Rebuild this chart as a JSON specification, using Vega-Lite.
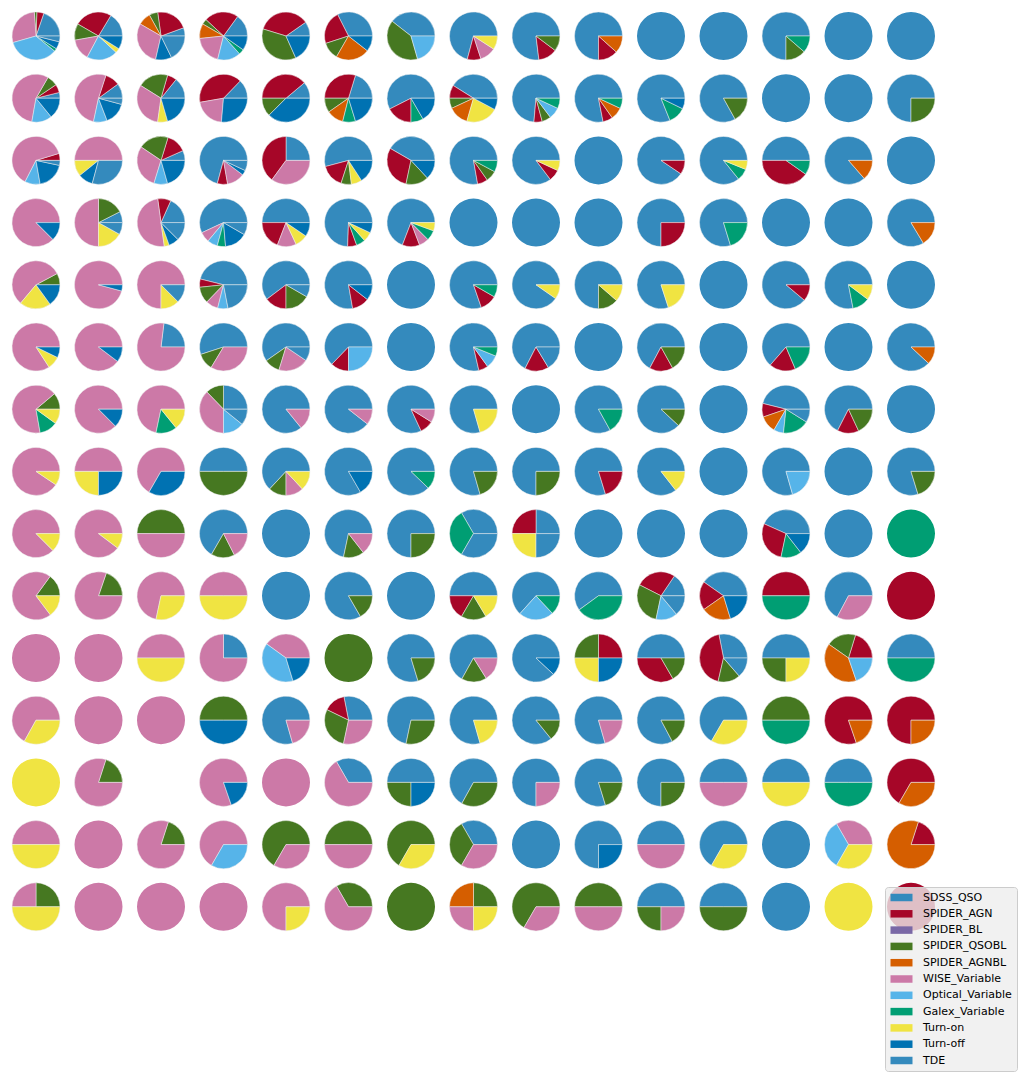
{
  "$schema": "https://vega.github.io/schema/vega-lite/v6.json",
  "background": "white",
  "padding": {"left": 11, "top": 11, "right": 0, "bottom": 0},
  "datasets": {
    "cats": [
      {"cat": "SDSS_QSO", "k": 0}, {"cat": "SPIDER_AGN", "k": 1}, {"cat": "SPIDER_BL", "k": 2},
      {"cat": "SPIDER_QSOBL", "k": 3}, {"cat": "SPIDER_AGNBL", "k": 4}, {"cat": "WISE_Variable", "k": 5},
      {"cat": "Optical_Variable", "k": 6}, {"cat": "Galex_Variable", "k": 7}, {"cat": "Turn-on", "k": 8},
      {"cat": "Turn-off", "k": 9}, {"cat": "TDE", "k": 10}
    ],
    "pies": [
      {"r":0,"c":0,"SDSS_QSO":71,"SPIDER_AGN":17,"SPIDER_QSOBL":6,"WISE_Variable":102,"Optical_Variable":125,"Galex_Variable":7,"Turn-off":18,"TDE":14},
      {"r":0,"c":1,"SDSS_QSO":59,"SPIDER_AGN":91,"SPIDER_QSOBL":40,"WISE_Variable":52,"Optical_Variable":75,"Turn-on":11,"Turn-off":32},
      {"r":0,"c":2,"SDSS_QSO":20,"SPIDER_AGN":78,"SPIDER_QSOBL":21,"SPIDER_AGNBL":31,"WISE_Variable":107,"Turn-off":39,"TDE":64},
      {"r":0,"c":3,"SDSS_QSO":54,"SPIDER_AGN":83,"SPIDER_QSOBL":13,"SPIDER_AGNBL":36,"WISE_Variable":70,"Optical_Variable":56,"Galex_Variable":13,"Turn-off":35},
      {"r":0,"c":4,"SDSS_QSO":35,"SPIDER_AGN":128,"SPIDER_QSOBL":131,"Turn-off":66},
      {"r":0,"c":5,"SDSS_QSO":117,"SPIDER_AGN":81,"SPIDER_QSOBL":42,"SPIDER_AGNBL":82,"Turn-off":38},
      {"r":0,"c":6,"SDSS_QSO":142,"SPIDER_QSOBL":144,"Optical_Variable":74},
      {"r":0,"c":7,"SDSS_QSO":255,"SPIDER_AGN":33,"WISE_Variable":39,"Turn-on":33},
      {"r":0,"c":8,"SDSS_QSO":277,"SPIDER_AGN":46,"SPIDER_QSOBL":37},
      {"r":0,"c":9,"SDSS_QSO":270,"SPIDER_AGN":48,"SPIDER_AGNBL":42},
      {"r":0,"c":10,"SDSS_QSO":360},
      {"r":0,"c":11,"SDSS_QSO":360},
      {"r":0,"c":12,"SDSS_QSO":270,"SPIDER_QSOBL":49,"Galex_Variable":41},
      {"r":0,"c":13,"SDSS_QSO":360},
      {"r":0,"c":14,"SDSS_QSO":360},

      {"r":1,"c":0,"SDSS_QSO":14,"SPIDER_AGN":20,"SPIDER_QSOBL":26,"WISE_Variable":200,"Optical_Variable":49,"Turn-off":51},
      {"r":1,"c":1,"SDSS_QSO":36,"SPIDER_AGN":36,"WISE_Variable":186,"Optical_Variable":33,"Turn-off":54,"TDE":15},
      {"r":1,"c":2,"SDSS_QSO":51,"SPIDER_AGN":23,"SPIDER_QSOBL":74,"WISE_Variable":114,"Turn-on":24,"Turn-off":74},
      {"r":1,"c":3,"SDSS_QSO":46,"SPIDER_AGN":144,"WISE_Variable":75,"Turn-off":95},
      {"r":1,"c":4,"SDSS_QSO":40,"SPIDER_AGN":140,"SPIDER_QSOBL":45,"Turn-off":135},
      {"r":1,"c":5,"SDSS_QSO":73,"SPIDER_AGN":107,"SPIDER_QSOBL":35,"SPIDER_AGNBL":41,"Galex_Variable":31,"Turn-off":73},
      {"r":1,"c":6,"SDSS_QSO":207,"SPIDER_AGN":63,"Galex_Variable":30,"Turn-off":60},
      {"r":1,"c":7,"SDSS_QSO":148,"SPIDER_AGN":32,"SPIDER_QSOBL":25,"SPIDER_AGNBL":49,"Turn-on":78,"Turn-off":28},
      {"r":1,"c":8,"SDSS_QSO":265,"SPIDER_AGN":20,"SPIDER_QSOBL":22,"Optical_Variable":28,"Galex_Variable":25},
      {"r":1,"c":9,"SDSS_QSO":281,"SPIDER_AGN":24,"SPIDER_AGNBL":30,"Galex_Variable":25},
      {"r":1,"c":10,"SDSS_QSO":292,"Galex_Variable":42,"Turn-off":26},
      {"r":1,"c":11,"SDSS_QSO":299,"SPIDER_QSOBL":61},
      {"r":1,"c":12,"SDSS_QSO":360},
      {"r":1,"c":13,"SDSS_QSO":360},
      {"r":1,"c":14,"SDSS_QSO":270,"SPIDER_QSOBL":90},

      {"r":2,"c":0,"SPIDER_AGN":17,"WISE_Variable":226,"Optical_Variable":37,"Turn-off":68,"TDE":12},
      {"r":2,"c":1,"WISE_Variable":180,"Turn-on":39,"Turn-off":36,"TDE":105},
      {"r":2,"c":2,"SDSS_QSO":24,"SPIDER_AGN":49,"SPIDER_QSOBL":73,"WISE_Variable":107,"Optical_Variable":33,"Turn-off":74},
      {"r":2,"c":3,"SDSS_QSO":255,"SPIDER_AGN":25,"WISE_Variable":43,"Turn-off":12,"TDE":25},
      {"r":2,"c":4,"SDSS_QSO":90,"SPIDER_AGN":144,"WISE_Variable":126},
      {"r":2,"c":5,"SDSS_QSO":195,"SPIDER_AGN":57,"SPIDER_QSOBL":25,"Turn-on":26,"Turn-off":57},
      {"r":2,"c":6,"SDSS_QSO":150,"SPIDER_AGN":108,"SPIDER_QSOBL":55,"Turn-off":47},
      {"r":2,"c":7,"SDSS_QSO":280,"SPIDER_AGN":25,"SPIDER_QSOBL":27,"Galex_Variable":28},
      {"r":2,"c":8,"SDSS_QSO":307,"SPIDER_AGN":28,"Turn-on":25},
      {"r":2,"c":9,"SDSS_QSO":360},
      {"r":2,"c":10,"SDSS_QSO":326,"SPIDER_AGN":34},
      {"r":2,"c":11,"SDSS_QSO":309,"Galex_Variable":29,"Turn-on":22},
      {"r":2,"c":12,"SDSS_QSO":180,"SPIDER_AGN":145,"Galex_Variable":35},
      {"r":2,"c":13,"SDSS_QSO":311,"SPIDER_AGNBL":49},
      {"r":2,"c":14,"SDSS_QSO":360},

      {"r":3,"c":0,"WISE_Variable":315,"Turn-off":45},
      {"r":3,"c":1,"SDSS_QSO":27,"SPIDER_QSOBL":63,"WISE_Variable":180,"Turn-on":61,"TDE":29},
      {"r":3,"c":2,"SDSS_QSO":66,"SPIDER_AGN":32,"WISE_Variable":180,"Turn-on":12,"Turn-off":25,"TDE":45},
      {"r":3,"c":3,"SDSS_QSO":205,"WISE_Variable":25,"Optical_Variable":25,"Galex_Variable":20,"Turn-off":55,"TDE":30},
      {"r":3,"c":4,"SDSS_QSO":180,"SPIDER_AGN":69,"WISE_Variable":46,"Turn-on":31,"Turn-off":34},
      {"r":3,"c":5,"SDSS_QSO":268,"SPIDER_AGN":22,"Galex_Variable":22,"Turn-on":23,"Turn-off":25},
      {"r":3,"c":6,"SDSS_QSO":249,"SPIDER_AGN":42,"WISE_Variable":24,"Galex_Variable":25,"Turn-on":20},
      {"r":3,"c":7,"SDSS_QSO":360},
      {"r":3,"c":8,"SDSS_QSO":360},
      {"r":3,"c":9,"SDSS_QSO":360},
      {"r":3,"c":10,"SDSS_QSO":270,"SPIDER_AGN":90},
      {"r":3,"c":11,"SDSS_QSO":287,"Galex_Variable":73},
      {"r":3,"c":12,"SDSS_QSO":360},
      {"r":3,"c":13,"SDSS_QSO":360},
      {"r":3,"c":14,"SDSS_QSO":301,"SPIDER_AGNBL":59},

      {"r":4,"c":0,"SPIDER_QSOBL":28,"WISE_Variable":202,"Turn-on":76,"Turn-off":54},
      {"r":4,"c":1,"WISE_Variable":345,"Turn-off":15},
      {"r":4,"c":2,"WISE_Variable":270,"Turn-on":45,"TDE":45},
      {"r":4,"c":3,"SDSS_QSO":166,"SPIDER_AGN":20,"SPIDER_QSOBL":40,"WISE_Variable":30,"Optical_Variable":25,"TDE":79},
      {"r":4,"c":4,"SDSS_QSO":217,"SPIDER_AGN":53,"SPIDER_QSOBL":60,"TDE":30},
      {"r":4,"c":5,"SDSS_QSO":280,"SPIDER_AGN":42,"Turn-off":38},
      {"r":4,"c":6,"SDSS_QSO":360},
      {"r":4,"c":7,"SDSS_QSO":289,"SPIDER_AGN":41,"Galex_Variable":30},
      {"r":4,"c":8,"SDSS_QSO":325,"Turn-on":35},
      {"r":4,"c":9,"SDSS_QSO":270,"SPIDER_QSOBL":49,"Turn-on":41},
      {"r":4,"c":10,"SDSS_QSO":288,"Turn-on":72},
      {"r":4,"c":11,"SDSS_QSO":360},
      {"r":4,"c":12,"SDSS_QSO":320,"SPIDER_AGN":40},
      {"r":4,"c":13,"SDSS_QSO":281,"Galex_Variable":42,"Turn-on":37},
      {"r":4,"c":14,"SDSS_QSO":360},

      {"r":5,"c":0,"WISE_Variable":303,"Turn-on":31,"Turn-off":26},
      {"r":5,"c":1,"WISE_Variable":323,"Turn-off":37},
      {"r":5,"c":2,"SDSS_QSO":83,"WISE_Variable":277},
      {"r":5,"c":3,"SDSS_QSO":198,"SPIDER_QSOBL":41,"WISE_Variable":121},
      {"r":5,"c":4,"SDSS_QSO":215,"SPIDER_QSOBL":38,"WISE_Variable":73,"TDE":34},
      {"r":5,"c":5,"SDSS_QSO":226,"SPIDER_AGN":44,"Optical_Variable":90},
      {"r":5,"c":6,"SDSS_QSO":360},
      {"r":5,"c":7,"SDSS_QSO":283,"SPIDER_AGN":23,"Optical_Variable":32,"Galex_Variable":22},
      {"r":5,"c":8,"SDSS_QSO":243,"SPIDER_AGN":58,"TDE":59},
      {"r":5,"c":9,"SDSS_QSO":360},
      {"r":5,"c":10,"SDSS_QSO":242,"SPIDER_AGN":57,"SPIDER_QSOBL":61},
      {"r":5,"c":11,"SDSS_QSO":360},
      {"r":5,"c":12,"SDSS_QSO":229,"SPIDER_AGN":64,"Galex_Variable":67},
      {"r":5,"c":13,"SDSS_QSO":360},
      {"r":5,"c":14,"SDSS_QSO":317,"SPIDER_AGNBL":43},

      {"r":6,"c":0,"SPIDER_QSOBL":40,"WISE_Variable":240,"Galex_Variable":44,"Turn-on":36},
      {"r":6,"c":1,"WISE_Variable":315,"Turn-off":45},
      {"r":6,"c":2,"WISE_Variable":258,"Galex_Variable":51,"Turn-on":51},
      {"r":6,"c":3,"SDSS_QSO":90,"SPIDER_QSOBL":44,"WISE_Variable":136,"Optical_Variable":51,"TDE":39},
      {"r":6,"c":4,"SDSS_QSO":309,"WISE_Variable":51},
      {"r":6,"c":5,"SDSS_QSO":322,"WISE_Variable":38},
      {"r":6,"c":6,"SDSS_QSO":295,"SPIDER_AGN":33,"WISE_Variable":32},
      {"r":6,"c":7,"SDSS_QSO":286,"Turn-on":74},
      {"r":6,"c":8,"SDSS_QSO":360},
      {"r":6,"c":9,"SDSS_QSO":299,"Galex_Variable":61},
      {"r":6,"c":10,"SDSS_QSO":317,"SPIDER_QSOBL":43},
      {"r":6,"c":11,"SDSS_QSO":360},
      {"r":6,"c":12,"SDSS_QSO":166,"SPIDER_AGN":33,"SPIDER_AGNBL":41,"Optical_Variable":24,"Galex_Variable":64,"TDE":32},
      {"r":6,"c":13,"SDSS_QSO":243,"SPIDER_AGN":52,"SPIDER_QSOBL":65},
      {"r":6,"c":14,"SDSS_QSO":360},

      {"r":7,"c":0,"WISE_Variable":326,"Turn-on":34},
      {"r":7,"c":1,"WISE_Variable":180,"Turn-on":90,"Turn-off":90},
      {"r":7,"c":2,"WISE_Variable":240,"Turn-off":120},
      {"r":7,"c":3,"SDSS_QSO":180,"SPIDER_QSOBL":180},
      {"r":7,"c":4,"SDSS_QSO":227,"SPIDER_QSOBL":43,"WISE_Variable":43,"Turn-on":47},
      {"r":7,"c":5,"SDSS_QSO":300,"Turn-off":60},
      {"r":7,"c":6,"SDSS_QSO":316,"Galex_Variable":44},
      {"r":7,"c":7,"SDSS_QSO":286,"SPIDER_QSOBL":74},
      {"r":7,"c":8,"SDSS_QSO":270,"SPIDER_QSOBL":90},
      {"r":7,"c":9,"SDSS_QSO":287,"SPIDER_AGN":73},
      {"r":7,"c":10,"SDSS_QSO":308,"Turn-on":52},
      {"r":7,"c":11,"SDSS_QSO":360},
      {"r":7,"c":12,"SDSS_QSO":286,"Optical_Variable":74},
      {"r":7,"c":13,"SDSS_QSO":360},
      {"r":7,"c":14,"SDSS_QSO":287,"SPIDER_QSOBL":73},

      {"r":8,"c":0,"WISE_Variable":315,"Turn-on":45},
      {"r":8,"c":1,"WISE_Variable":323,"Turn-on":37},
      {"r":8,"c":2,"SPIDER_QSOBL":180,"WISE_Variable":180},
      {"r":8,"c":3,"SDSS_QSO":240,"SPIDER_QSOBL":57,"WISE_Variable":63},
      {"r":8,"c":4,"SDSS_QSO":360},
      {"r":8,"c":5,"SDSS_QSO":258,"SPIDER_QSOBL":50,"WISE_Variable":52},
      {"r":8,"c":6,"SDSS_QSO":270,"SPIDER_QSOBL":90},
      {"r":8,"c":7,"SDSS_QSO":120,"Galex_Variable":120,"TDE":120},
      {"r":8,"c":8,"SDSS_QSO":90,"SPIDER_AGN":90,"Turn-on":90,"TDE":90},
      {"r":8,"c":9,"SDSS_QSO":360},
      {"r":8,"c":10,"SDSS_QSO":360},
      {"r":8,"c":11,"SDSS_QSO":360},
      {"r":8,"c":12,"SDSS_QSO":156,"SPIDER_AGN":102,"Galex_Variable":50,"Turn-off":52},
      {"r":8,"c":13,"SDSS_QSO":360},
      {"r":8,"c":14,"Galex_Variable":360},

      {"r":9,"c":0,"SPIDER_QSOBL":54,"WISE_Variable":253,"Turn-on":53},
      {"r":9,"c":1,"SPIDER_QSOBL":71,"WISE_Variable":289},
      {"r":9,"c":2,"WISE_Variable":258,"Turn-on":102},
      {"r":9,"c":3,"WISE_Variable":180,"Turn-on":180},
      {"r":9,"c":4,"SDSS_QSO":360},
      {"r":9,"c":5,"SDSS_QSO":300,"SPIDER_QSOBL":60},
      {"r":9,"c":6,"SDSS_QSO":360},
      {"r":9,"c":7,"SDSS_QSO":180,"SPIDER_AGN":60,"SPIDER_QSOBL":61,"Turn-on":59},
      {"r":9,"c":8,"SDSS_QSO":228,"Optical_Variable":85,"Galex_Variable":47},
      {"r":9,"c":9,"SDSS_QSO":216,"Galex_Variable":144},
      {"r":9,"c":10,"SDSS_QSO":56,"SPIDER_AGN":97,"SPIDER_QSOBL":105,"Optical_Variable":52,"TDE":50},
      {"r":9,"c":11,"SDSS_QSO":145,"SPIDER_AGN":70,"SPIDER_AGNBL":72,"Turn-off":73},
      {"r":9,"c":12,"SPIDER_AGN":180,"Galex_Variable":180},
      {"r":9,"c":13,"SDSS_QSO":242,"WISE_Variable":118},
      {"r":9,"c":14,"SPIDER_AGN":360},

      {"r":10,"c":0,"WISE_Variable":360},
      {"r":10,"c":1,"WISE_Variable":360},
      {"r":10,"c":2,"WISE_Variable":180,"Turn-on":180},
      {"r":10,"c":3,"SDSS_QSO":90,"WISE_Variable":270},
      {"r":10,"c":4,"WISE_Variable":144,"Optical_Variable":143,"Turn-off":73},
      {"r":10,"c":5,"SPIDER_QSOBL":360},
      {"r":10,"c":6,"SDSS_QSO":287,"SPIDER_QSOBL":73},
      {"r":10,"c":7,"SDSS_QSO":241,"SPIDER_QSOBL":61,"WISE_Variable":58},
      {"r":10,"c":8,"SDSS_QSO":317,"Turn-off":43},
      {"r":10,"c":9,"SPIDER_AGN":90,"SPIDER_QSOBL":90,"Turn-on":90,"Turn-off":90},
      {"r":10,"c":10,"SDSS_QSO":180,"SPIDER_AGN":120,"SPIDER_QSOBL":60},
      {"r":10,"c":11,"SDSS_QSO":101,"SPIDER_AGN":156,"SPIDER_QSOBL":54,"TDE":49},
      {"r":10,"c":12,"SDSS_QSO":180,"SPIDER_QSOBL":90,"Turn-on":90},
      {"r":10,"c":13,"SPIDER_AGN":73,"SPIDER_QSOBL":72,"SPIDER_AGNBL":144,"Optical_Variable":71},
      {"r":10,"c":14,"SDSS_QSO":180,"Galex_Variable":180},

      {"r":11,"c":0,"WISE_Variable":241,"Turn-on":119},
      {"r":11,"c":1,"WISE_Variable":360},
      {"r":11,"c":2,"WISE_Variable":360},
      {"r":11,"c":3,"SPIDER_QSOBL":180,"Turn-off":180},
      {"r":11,"c":4,"SDSS_QSO":286,"WISE_Variable":74},
      {"r":11,"c":5,"SDSS_QSO":101,"SPIDER_AGN":53,"SPIDER_QSOBL":104,"WISE_Variable":102},
      {"r":11,"c":6,"SDSS_QSO":258,"SPIDER_QSOBL":102},
      {"r":11,"c":7,"SDSS_QSO":286,"Turn-on":74},
      {"r":11,"c":8,"SDSS_QSO":309,"SPIDER_QSOBL":51},
      {"r":11,"c":9,"SDSS_QSO":286,"WISE_Variable":74},
      {"r":11,"c":10,"SDSS_QSO":298,"SPIDER_QSOBL":62},
      {"r":11,"c":11,"SDSS_QSO":240,"Turn-on":120},
      {"r":11,"c":12,"SPIDER_QSOBL":180,"Galex_Variable":180},
      {"r":11,"c":13,"SPIDER_AGN":289,"SPIDER_AGNBL":71},
      {"r":11,"c":14,"SPIDER_AGN":270,"SPIDER_AGNBL":90},

      {"r":12,"c":0,"Turn-on":360},
      {"r":12,"c":1,"SPIDER_QSOBL":72,"WISE_Variable":288},
      {"r":12,"c":3,"WISE_Variable":289,"Turn-off":71},
      {"r":12,"c":4,"WISE_Variable":360},
      {"r":12,"c":5,"SDSS_QSO":120,"WISE_Variable":240},
      {"r":12,"c":6,"SDSS_QSO":180,"SPIDER_QSOBL":90,"Turn-off":90},
      {"r":12,"c":7,"SDSS_QSO":241,"SPIDER_QSOBL":119},
      {"r":12,"c":8,"SDSS_QSO":270,"WISE_Variable":90},
      {"r":12,"c":9,"SDSS_QSO":287,"SPIDER_QSOBL":73},
      {"r":12,"c":10,"SDSS_QSO":270,"SPIDER_QSOBL":90},
      {"r":12,"c":11,"SDSS_QSO":180,"WISE_Variable":180},
      {"r":12,"c":12,"SDSS_QSO":180,"Turn-on":180},
      {"r":12,"c":13,"SDSS_QSO":180,"Galex_Variable":180},
      {"r":12,"c":14,"SPIDER_AGN":240,"SPIDER_AGNBL":120},

      {"r":13,"c":0,"WISE_Variable":180,"Turn-on":180},
      {"r":13,"c":1,"WISE_Variable":360},
      {"r":13,"c":2,"SPIDER_QSOBL":72,"WISE_Variable":288},
      {"r":13,"c":3,"WISE_Variable":240,"Optical_Variable":120},
      {"r":13,"c":4,"SPIDER_QSOBL":240,"WISE_Variable":120},
      {"r":13,"c":5,"SPIDER_QSOBL":180,"WISE_Variable":180},
      {"r":13,"c":6,"SPIDER_QSOBL":240,"Turn-on":120},
      {"r":13,"c":7,"SDSS_QSO":120,"SPIDER_QSOBL":120,"WISE_Variable":120},
      {"r":13,"c":8,"SDSS_QSO":360},
      {"r":13,"c":9,"SDSS_QSO":270,"Turn-off":90},
      {"r":13,"c":10,"SDSS_QSO":180,"WISE_Variable":180},
      {"r":13,"c":11,"SDSS_QSO":240,"Turn-on":120},
      {"r":13,"c":12,"SDSS_QSO":360},
      {"r":13,"c":13,"WISE_Variable":120,"Optical_Variable":120,"Turn-on":120},
      {"r":13,"c":14,"SPIDER_AGN":72,"SPIDER_AGNBL":288},

      {"r":14,"c":0,"SPIDER_QSOBL":90,"WISE_Variable":90,"Turn-on":180},
      {"r":14,"c":1,"WISE_Variable":360},
      {"r":14,"c":2,"WISE_Variable":360},
      {"r":14,"c":3,"WISE_Variable":360},
      {"r":14,"c":4,"WISE_Variable":270,"Turn-on":90},
      {"r":14,"c":5,"SPIDER_QSOBL":120,"WISE_Variable":240},
      {"r":14,"c":6,"SPIDER_QSOBL":360},
      {"r":14,"c":7,"SPIDER_QSOBL":90,"SPIDER_AGNBL":90,"WISE_Variable":90,"Turn-on":90},
      {"r":14,"c":8,"SPIDER_QSOBL":240,"WISE_Variable":120},
      {"r":14,"c":9,"SPIDER_QSOBL":180,"WISE_Variable":180},
      {"r":14,"c":10,"SDSS_QSO":180,"SPIDER_QSOBL":90,"WISE_Variable":90},
      {"r":14,"c":11,"SDSS_QSO":180,"SPIDER_QSOBL":180},
      {"r":14,"c":12,"SDSS_QSO":360},
      {"r":14,"c":13,"Turn-on":360},
      {"r":14,"c":14,"SPIDER_AGN":360}
    ]
  },
  "data": {"name": "pies"},
  "transform": [
    {"fold": ["SDSS_QSO","SPIDER_AGN","SPIDER_BL","SPIDER_QSOBL","SPIDER_AGNBL","WISE_Variable","Optical_Variable","Galex_Variable","Turn-on","Turn-off","TDE"], "as": ["cat", "v"]},
    {"filter": "datum.v > 0"},
    {"lookup": "cat", "from": {"data": {"name": "cats"}, "key": "cat", "fields": ["k"]}}
  ],
  "facet": {
    "row": {"field": "r", "type": "ordinal", "header": {"title": null, "labels": false}},
    "column": {"field": "c", "type": "ordinal", "header": {"title": null, "labels": false}}
  },
  "spacing": {"row": 12.2, "column": 12.5},
  "spec": {
    "width": 50,
    "height": 50,
    "mark": {"type": "arc", "outerRadius": 24, "stroke": "#eeeeee", "strokeWidth": 0.5},
    "encoding": {
      "theta": {"field": "v", "type": "quantitative", "stack": "normalize", "scale": {"range": [1.5707963, -4.712389]}},
      "order": {"field": "k", "type": "quantitative"},
      "strokeOpacity": {"condition": {"test": "datum.v >= 360", "value": 0}, "value": 1},
      "color": {
        "field": "cat", "type": "nominal",
        "scale": {
          "domain": ["SDSS_QSO","SPIDER_AGN","SPIDER_BL","SPIDER_QSOBL","SPIDER_AGNBL","WISE_Variable","Optical_Variable","Galex_Variable","Turn-on","Turn-off","TDE"],
          "range": ["#348ABD","#A60628","#7A68A6","#467821","#D55E00","#CC79A7","#56B4E9","#009E73","#F0E442","#0072B2","#348ABD"]
        },
        "legend": {
          "orient": "none", "legendX": 874, "legendY": 876, "title": null,
          "symbolType": "M-1,-0.75H3.4V0.75H-1Z", "symbolSize": 100, "symbolStrokeWidth": 0, "symbolOpacity": 1,
          "labelFont": "DejaVu Sans", "labelFontSize": 11, "labelColor": "#000000", "labelOffset": 22, "labelLimit": 200,
          "rowPadding": 4.3, "padding": 5, "fillColor": "rgba(238,238,238,0.8)", "strokeColor": "#cccccc", "cornerRadius": 3
        }
      }
    }
  },
  "config": {"view": {"stroke": null}}
}
